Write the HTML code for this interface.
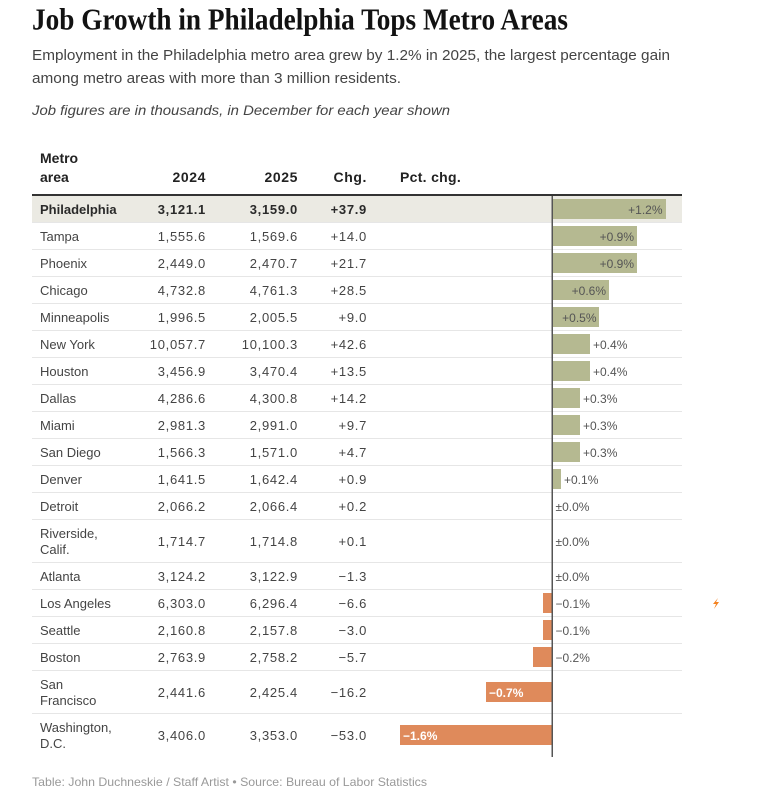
<!DOCTYPE html>
<html><head><meta charset="utf-8"><style>
html,body{margin:0;padding:0;background:#fff;}
svg{display:block;}
text{font-family:"Liberation Sans",Arial,sans-serif;}
.t{font-family:"Liberation Serif",serif;font-weight:bold;}
.nm{font-size:13px;fill:#444;}
.num{font-size:13px;fill:#444;letter-spacing:0.7px;}
.b{font-weight:bold;fill:#2a2a2a;}
.hd{font-size:14px;font-weight:bold;fill:#222;}
.lb{font-size:12px;fill:#555;}
.lw{font-size:12px;fill:#fff;font-weight:bold;}
</style></head><body>
<svg width="780" height="811" viewBox="0 0 780 811" xmlns="http://www.w3.org/2000/svg">
<rect width="780" height="811" fill="#fff"/>
<text class="t" x="32" y="29.5" font-size="31" fill="#121212" textLength="536" lengthAdjust="spacingAndGlyphs">Job Growth in Philadelphia Tops Metro Areas</text>
<text x="32" y="60" font-size="15" fill="#444" textLength="638" lengthAdjust="spacingAndGlyphs">Employment in the Philadelphia metro area grew by 1.2% in 2025, the largest percentage gain</text>
<text x="32" y="83" font-size="15" fill="#444" textLength="369" lengthAdjust="spacingAndGlyphs">among metro areas with more than 3 million residents.</text>
<text x="32" y="115" font-size="14" font-style="italic" fill="#444" textLength="418" lengthAdjust="spacingAndGlyphs">Job figures are in thousands, in December for each year shown</text>

<!-- header -->
<text class="hd" x="40" y="163">Metro</text>
<text class="hd" x="40" y="182">area</text>
<text class="hd" x="206" y="182" text-anchor="end" letter-spacing="0.6">2024</text>
<text class="hd" x="298" y="182" text-anchor="end" letter-spacing="0.6">2025</text>
<text class="hd" x="367" y="182" text-anchor="end" letter-spacing="0.6">Chg.</text>
<text class="hd" x="400" y="182" letter-spacing="0.3">Pct. chg.</text>
<rect x="32" y="194" width="650" height="2" fill="#333"/>

<!-- philly bg -->
<rect x="32" y="196" width="650" height="26" fill="#ebeae3"/>

<!-- separators -->
<g stroke="#e6e6e6" stroke-width="1">
<line x1="32" x2="682" y1="222.5" y2="222.5"/>
<line x1="32" x2="682" y1="249.5" y2="249.5"/>
<line x1="32" x2="682" y1="276.5" y2="276.5"/>
<line x1="32" x2="682" y1="303.5" y2="303.5"/>
<line x1="32" x2="682" y1="330.5" y2="330.5"/>
<line x1="32" x2="682" y1="357.5" y2="357.5"/>
<line x1="32" x2="682" y1="384.5" y2="384.5"/>
<line x1="32" x2="682" y1="411.5" y2="411.5"/>
<line x1="32" x2="682" y1="438.5" y2="438.5"/>
<line x1="32" x2="682" y1="465.5" y2="465.5"/>
<line x1="32" x2="682" y1="492.5" y2="492.5"/>
<line x1="32" x2="682" y1="519.5" y2="519.5"/>
<line x1="32" x2="682" y1="562.5" y2="562.5"/>
<line x1="32" x2="682" y1="589.5" y2="589.5"/>
<line x1="32" x2="682" y1="616.5" y2="616.5"/>
<line x1="32" x2="682" y1="643.5" y2="643.5"/>
<line x1="32" x2="682" y1="670.5" y2="670.5"/>
<line x1="32" x2="682" y1="713.5" y2="713.5"/>
</g>

<!-- bars -->
<g fill="#b5b991">
<rect x="552" y="199" width="114" height="20"/>
<rect x="552" y="226" width="85" height="20"/>
<rect x="552" y="253" width="85" height="20"/>
<rect x="552" y="280" width="57" height="20"/>
<rect x="552" y="307" width="47" height="20"/>
<rect x="552" y="334" width="38" height="20"/>
<rect x="552" y="361" width="38" height="20"/>
<rect x="552" y="388" width="28" height="20"/>
<rect x="552" y="415" width="28" height="20"/>
<rect x="552" y="442" width="28" height="20"/>
<rect x="552" y="469" width="9" height="20"/>
</g>
<g fill="#df8a5b">
<rect x="543" y="593" width="9" height="20"/>
<rect x="543" y="620" width="9" height="20"/>
<rect x="533" y="647" width="19" height="20"/>
<rect x="486" y="682" width="66" height="20"/>
<rect x="400" y="725" width="152" height="20"/>
</g>
<rect x="551.5" y="196" width="1.5" height="561" fill="#555"/>

<!-- bar labels -->
<text class="lb" x="662.5" y="214" text-anchor="end">+1.2%</text>
<text class="lb" x="634" y="241" text-anchor="end">+0.9%</text>
<text class="lb" x="634" y="268" text-anchor="end">+0.9%</text>
<text class="lb" x="606" y="295" text-anchor="end">+0.6%</text>
<text class="lb" x="596.5" y="322" text-anchor="end">+0.5%</text>
<text class="lb" x="593" y="349">+0.4%</text>
<text class="lb" x="593" y="376">+0.4%</text>
<text class="lb" x="583" y="403">+0.3%</text>
<text class="lb" x="583" y="430">+0.3%</text>
<text class="lb" x="583" y="457">+0.3%</text>
<text class="lb" x="564" y="484">+0.1%</text>
<text class="lb" x="555.5" y="511">±0.0%</text>
<text class="lb" x="555.5" y="546">±0.0%</text>
<text class="lb" x="555.5" y="581">±0.0%</text>
<text class="lb" x="555.5" y="608">−0.1%</text>
<text class="lb" x="555.5" y="635">−0.1%</text>
<text class="lb" x="555.5" y="662">−0.2%</text>
<text class="lw" x="489" y="697">−0.7%</text>
<text class="lw" x="403" y="740">−1.6%</text>

<!-- rows -->
<g>
<text class="nm b" x="40" y="214">Philadelphia</text>
<text class="num b" x="206" y="214" text-anchor="end">3,121.1</text>
<text class="num b" x="298" y="214" text-anchor="end">3,159.0</text>
<text class="num b" x="367" y="214" text-anchor="end">+37.9</text>

<text class="nm" x="40" y="241">Tampa</text>
<text class="num" x="206" y="241" text-anchor="end">1,555.6</text>
<text class="num" x="298" y="241" text-anchor="end">1,569.6</text>
<text class="num" x="367" y="241" text-anchor="end">+14.0</text>

<text class="nm" x="40" y="268">Phoenix</text>
<text class="num" x="206" y="268" text-anchor="end">2,449.0</text>
<text class="num" x="298" y="268" text-anchor="end">2,470.7</text>
<text class="num" x="367" y="268" text-anchor="end">+21.7</text>

<text class="nm" x="40" y="295">Chicago</text>
<text class="num" x="206" y="295" text-anchor="end">4,732.8</text>
<text class="num" x="298" y="295" text-anchor="end">4,761.3</text>
<text class="num" x="367" y="295" text-anchor="end">+28.5</text>

<text class="nm" x="40" y="322">Minneapolis</text>
<text class="num" x="206" y="322" text-anchor="end">1,996.5</text>
<text class="num" x="298" y="322" text-anchor="end">2,005.5</text>
<text class="num" x="367" y="322" text-anchor="end">+9.0</text>

<text class="nm" x="40" y="349">New York</text>
<text class="num" x="206" y="349" text-anchor="end">10,057.7</text>
<text class="num" x="298" y="349" text-anchor="end">10,100.3</text>
<text class="num" x="367" y="349" text-anchor="end">+42.6</text>

<text class="nm" x="40" y="376">Houston</text>
<text class="num" x="206" y="376" text-anchor="end">3,456.9</text>
<text class="num" x="298" y="376" text-anchor="end">3,470.4</text>
<text class="num" x="367" y="376" text-anchor="end">+13.5</text>

<text class="nm" x="40" y="403">Dallas</text>
<text class="num" x="206" y="403" text-anchor="end">4,286.6</text>
<text class="num" x="298" y="403" text-anchor="end">4,300.8</text>
<text class="num" x="367" y="403" text-anchor="end">+14.2</text>

<text class="nm" x="40" y="430">Miami</text>
<text class="num" x="206" y="430" text-anchor="end">2,981.3</text>
<text class="num" x="298" y="430" text-anchor="end">2,991.0</text>
<text class="num" x="367" y="430" text-anchor="end">+9.7</text>

<text class="nm" x="40" y="457">San Diego</text>
<text class="num" x="206" y="457" text-anchor="end">1,566.3</text>
<text class="num" x="298" y="457" text-anchor="end">1,571.0</text>
<text class="num" x="367" y="457" text-anchor="end">+4.7</text>

<text class="nm" x="40" y="484">Denver</text>
<text class="num" x="206" y="484" text-anchor="end">1,641.5</text>
<text class="num" x="298" y="484" text-anchor="end">1,642.4</text>
<text class="num" x="367" y="484" text-anchor="end">+0.9</text>

<text class="nm" x="40" y="511">Detroit</text>
<text class="num" x="206" y="511" text-anchor="end">2,066.2</text>
<text class="num" x="298" y="511" text-anchor="end">2,066.4</text>
<text class="num" x="367" y="511" text-anchor="end">+0.2</text>

<text class="nm" x="40" y="538">Riverside,</text>
<text class="nm" x="40" y="554">Calif.</text>
<text class="num" x="206" y="546" text-anchor="end">1,714.7</text>
<text class="num" x="298" y="546" text-anchor="end">1,714.8</text>
<text class="num" x="367" y="546" text-anchor="end">+0.1</text>

<text class="nm" x="40" y="581">Atlanta</text>
<text class="num" x="206" y="581" text-anchor="end">3,124.2</text>
<text class="num" x="298" y="581" text-anchor="end">3,122.9</text>
<text class="num" x="367" y="581" text-anchor="end">−1.3</text>

<text class="nm" x="40" y="608">Los Angeles</text>
<text class="num" x="206" y="608" text-anchor="end">6,303.0</text>
<text class="num" x="298" y="608" text-anchor="end">6,296.4</text>
<text class="num" x="367" y="608" text-anchor="end">−6.6</text>

<text class="nm" x="40" y="635">Seattle</text>
<text class="num" x="206" y="635" text-anchor="end">2,160.8</text>
<text class="num" x="298" y="635" text-anchor="end">2,157.8</text>
<text class="num" x="367" y="635" text-anchor="end">−3.0</text>

<text class="nm" x="40" y="662">Boston</text>
<text class="num" x="206" y="662" text-anchor="end">2,763.9</text>
<text class="num" x="298" y="662" text-anchor="end">2,758.2</text>
<text class="num" x="367" y="662" text-anchor="end">−5.7</text>

<text class="nm" x="40" y="689">San</text>
<text class="nm" x="40" y="705">Francisco</text>
<text class="num" x="206" y="697" text-anchor="end">2,441.6</text>
<text class="num" x="298" y="697" text-anchor="end">2,425.4</text>
<text class="num" x="367" y="697" text-anchor="end">−16.2</text>

<text class="nm" x="40" y="732">Washington,</text>
<text class="nm" x="40" y="748">D.C.</text>
<text class="num" x="206" y="740" text-anchor="end">3,406.0</text>
<text class="num" x="298" y="740" text-anchor="end">3,353.0</text>
<text class="num" x="367" y="740" text-anchor="end">−53.0</text>
</g>

<!-- small icon -->
<polygon points="718,598 713,604 716,604 714,609 719,602 716,602" fill="#f5821f"/>

<text x="32" y="786" font-size="12" fill="#999" textLength="395" lengthAdjust="spacingAndGlyphs">Table: John Duchneskie / Staff Artist • Source: Bureau of Labor Statistics</text>
</svg>
</body></html>
